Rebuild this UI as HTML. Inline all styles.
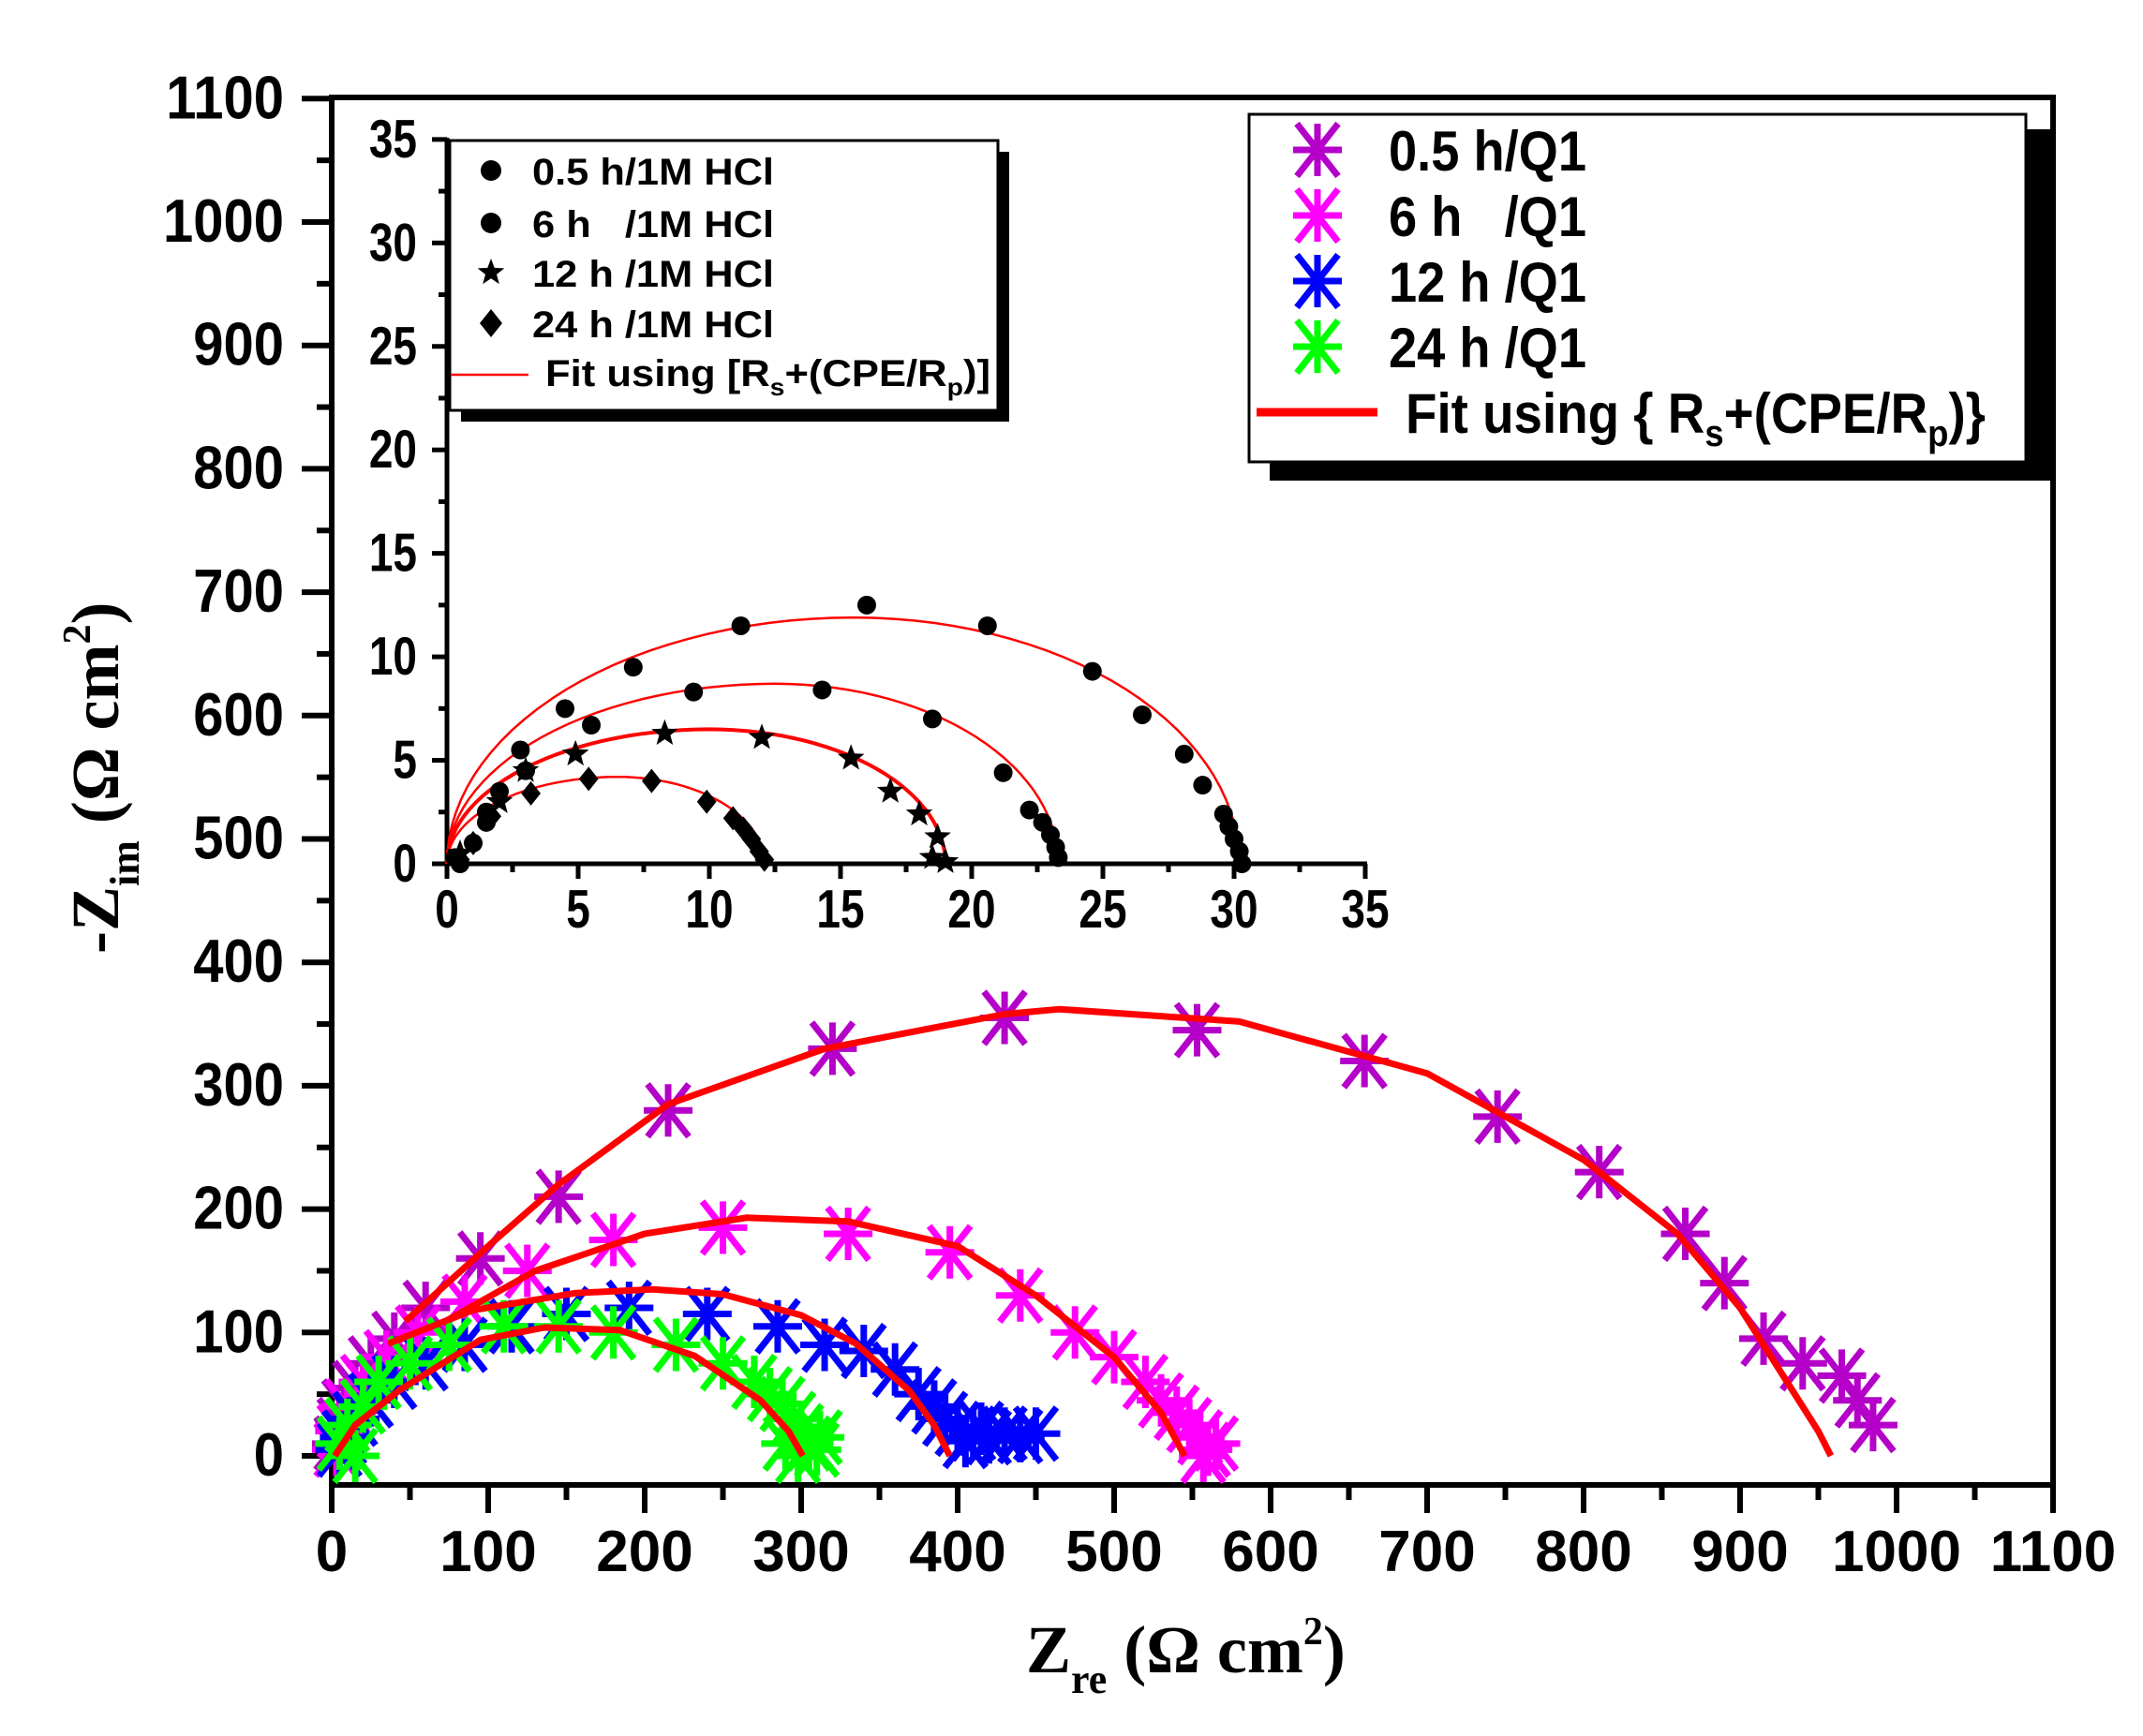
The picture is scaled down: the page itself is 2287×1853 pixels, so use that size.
<!DOCTYPE html>
<html><head><meta charset="utf-8">
<style>html,body{margin:0;padding:0;background:#fff;}svg{display:block;}text{white-space:pre;}</style>
</head><body>
<svg id="s" xmlns="http://www.w3.org/2000/svg" width="2287" height="1853" viewBox="0 0 2287 1853" font-family="Liberation Sans, Arial, sans-serif" font-weight="bold">
<rect width="2287" height="1853" fill="#fff"/>
<defs>
<g id="ast"><path d="M0,-28V28M-26,0H26M-22,-28L22,28M22,-28L-22,28" stroke-width="7" fill="none"/></g>
</defs>
<g id="g"></g>
</svg>
<script>
(function(){
var NS="http://www.w3.org/2000/svg",g=document.getElementById('g');
function el(t,a,p){var e=document.createElementNS(NS,t);for(var k in a)e.setAttribute(k,a[k]);(p||g).appendChild(e);return e;}
function tx(x,y,s,a){a=a||{};a.x=x;a.y=y;var e=el('text',a);e.textContent=s;return e;}
function X(v){return 354+1.67*v;} function Y(v){return 1554-1.317*v;}
function ix(v){return 477+28*v;} function iy(v){return 922-22.09*v;}
el('path',{d:'M354,104H2191V1585H354Z',fill:'none',stroke:'#000','stroke-width':6});
for(var v=0;v<=1100;v+=50){var maj=v%100==0;
 el('line',{x1:X(v),y1:1585,x2:X(v),y2:1585+(maj?30:16),stroke:'#000','stroke-width':6});
 el('line',{x1:354,y1:Y(v),x2:354-(maj?32:16),y2:Y(v),stroke:'#000','stroke-width':6});
 if(maj){tx(X(v),1677,String(v),{'font-size':62,'text-anchor':'middle'});
  tx(303,0,String(v),{'font-size':58,'text-anchor':'end',transform:'translate(0,'+(Y(v)+21)+') scale(1,1.12)'});}
}
var xt=tx(1095,1785,'',{'font-family':'Liberation Serif, serif','font-size':72});
xt.innerHTML='Z<tspan font-size="44" dy="22">re</tspan><tspan dy="-22"> (Ω cm</tspan><tspan font-size="42" dy="-30">2</tspan><tspan dy="30">)</tspan>';
var yt=el('text',{transform:'translate(126,1018) rotate(-90)','font-family':'Liberation Serif, serif','font-size':72,x:0,y:0});
yt.innerHTML='-Z<tspan font-size="44" dy="22">im</tspan><tspan dy="-22"> (Ω cm</tspan><tspan font-size="42" dy="-30">2</tspan><tspan dy="30">)</tspan>';
el('rect',{x:1355,y:138,width:835,height:375,fill:'#000'});
el('rect',{x:1333,y:122,width:829,height:371,fill:'#fff',stroke:'#000','stroke-width':3});
var cols=['#b400c8','#ff00ff','#0000ff','#00ff00'],labs=['0.5 h/Q1','6 h   /Q1','12 h /Q1','24 h /Q1'];
for(var i=0;i<4;i++){var yy=160+70*i;el('use',{href:'#ast',x:1406,y:yy,stroke:cols[i]});
 tx(1482,yy+22,labs[i],{'font-size':60,textLength:211,lengthAdjust:'spacingAndGlyphs'});}
el('line',{x1:1341,y1:440,x2:1470,y2:440,stroke:'#f00','stroke-width':9});
var ft=tx(1500,462,'',{'font-size':60,textLength:619,lengthAdjust:'spacingAndGlyphs'});
ft.innerHTML='Fit using { R<tspan font-size="40" dy="14">s</tspan><tspan dy="-14">+(CPE/R</tspan><tspan font-size="40" dy="14">p</tspan><tspan dy="-14">)}</tspan>';
function poly(pts,f,fy,col,w){var s=pts.map(function(p){return f(p[0]).toFixed(1)+','+fy(p[1]).toFixed(1)}).join(' ');
 el('polyline',{points:s,fill:'none',stroke:col,'stroke-width':w,'stroke-linejoin':'round'});}
var D=[
[[3,10],[5,25],[8,40],[15,55],[25,75],[40,95],[60,120],[95,160],[145,210],[215,280],[320,330],[430,355],[553,345],[660,320],[745,275],[810,230],[865,180],[890,140],[915,95],[940,75],[965,65],[975,45],[985,25]],
[[3,5],[5,20],[10,40],[20,60],[35,80],[55,100],[85,125],[125,150],[180,175],[250,185],[330,180],[395,165],[440,130],[475,100],[500,80],[520,60],[530,45],[540,35],[548,25],[555,15],[560,5],[565,10],[557,0]],
[[5,5],[8,15],[15,30],[25,45],[40,60],[60,75],[85,90],[115,105],[150,115],[190,120],[240,115],[285,105],[315,90],[340,85],[360,70],[375,50],[385,40],[392,30],[400,22],[410,18],[420,15],[430,18],[440,16],[450,18],[405,12],[415,22]],
[[15,0],[5,10],[10,25],[20,40],[30,60],[50,75],[75,90],[110,105],[145,105],[180,100],[220,90],[250,75],[270,60],[280,50],[288,42],[295,30],[300,20],[305,10],[310,5],[298,0],[312,15],[290,10]]];
for(var k=0;k<4;k++){D[k].forEach(function(p){el('use',{href:'#ast',x:X(p[0]),y:Y(p[1]),stroke:cols[k]});});}
poly([[47,109],[100,170],[145,220],[215,285],[315,330],[430,358],[465,362],[580,352],[700,310],[800,240],[860,180],[900,120],[930,60],[950,20],[958,0]],X,Y,'#f00',7);
poly([[74,110],[130,150],[200,180],[265,193],[330,190],[400,170],[450,130],[500,80],[530,35],[545,0]],X,Y,'#f00',7);
poly([[36,91],[90,118],[156,132],[205,135],[250,131],[300,114],[335,91],[369,53],[385,25],[395,0]],X,Y,'#f00',7);
poly([[2,0],[15,25],[43,53],[95,94],[136,104],[184,102],[232,81],[274,45],[292,20],[301,0]],X,Y,'#f00',7);
el('line',{x1:477,y1:147,x2:477,y2:925,stroke:'#000','stroke-width':5});
el('line',{x1:475,y1:922,x2:1459,y2:922,stroke:'#000','stroke-width':5});
for(var v=0;v<=35;v+=2.5){var maj=v%5==0;
 el('line',{x1:ix(v),y1:922,x2:ix(v),y2:922+(maj?16:9),stroke:'#000','stroke-width':5});
 el('line',{x1:477,y1:iy(v),x2:477-(maj?16:9),y2:iy(v),stroke:'#000','stroke-width':5});
 if(maj){tx(ix(v),0,String(v),{'font-size':46,'text-anchor':'middle',transform:'translate(0,990) scale(1,1.25)'});
  tx(445,0,String(v),{'font-size':46,'text-anchor':'end',transform:'translate(0,'+(iy(v)+19)+') scale(1,1.25)'});}
}
el('rect',{x:492,y:162,width:585,height:288,fill:'#000'});
el('rect',{x:480,y:150,width:585,height:288,fill:'#fff',stroke:'#000','stroke-width':3});
function circ(x,y,r){el('circle',{cx:x,cy:y,r:r,fill:'#000'});}
function star(x,y,r){var s='';for(var j=0;j<10;j++){var a=-Math.PI/2+j*Math.PI/5,rr=j%2?r*0.42:r;s+=(x+rr*Math.cos(a)).toFixed(1)+','+(y+rr*Math.sin(a)).toFixed(1)+' ';}el('polygon',{points:s,fill:'#000'});}
function dia(x,y,r){el('polygon',{points:(x)+','+(y-r)+' '+(x+r*0.8)+','+y+' '+x+','+(y+r)+' '+(x-r*0.8)+','+y,fill:'#000'});}
circ(524,182,11);circ(524,238,11);star(524,291,15);dia(524,345,15);
var il=['0.5 h/1M HCl','6 h   /1M HCl','12 h /1M HCl','24 h /1M HCl'];
for(var i=0;i<4;i++){tx(568,[182,238,291,345][i]+15,il[i],{'font-size':40,textLength:258,lengthAdjust:'spacingAndGlyphs'});}
el('line',{x1:481,y1:400,x2:564,y2:400,stroke:'#f00','stroke-width':2.5});
var it=tx(582,412,'',{'font-size':40,textLength:475,lengthAdjust:'spacingAndGlyphs'});
it.innerHTML='Fit using [R<tspan font-size="26" dy="10">s</tspan><tspan dy="-10">+(CPE/R</tspan><tspan font-size="26" dy="10">p</tspan><tspan dy="-10">)]</tspan>';
function arc(c,h,R,w){var p=[];for(var j=0;j<=60;j++){var t=Math.PI*j/60,x=t<Math.PI/2?c-c*Math.cos(t):c-(R-c)*Math.cos(t);p.push([x,h*Math.sin(t)]);}poly(p,ix,iy,'#f00',w);}
arc(15.5,11.9,30.2,2.5);arc(12.5,8.7,23.3,2.5);arc(10,6.5,19,4);arc(6.5,4.2,12.1,2.5);
[[0.5,0],[1,1],[1.5,2.5],[2,3.5],[2.8,5.5],[4.5,7.5],[7.1,9.5],[11.2,11.5],[16,12.5],[20.6,11.5],[24.6,9.3],[26.5,7.2],[28.1,5.3],[28.8,3.8],[29.6,2.4],[29.8,1.8],[30,1.2],[30.2,0.6],[30.3,0]].forEach(function(p){circ(ix(p[0]),iy(p[1]),10);});
[[0.3,0.3],[1.5,2],[3,4.5],[5.5,6.7],[9.4,8.3],[14.3,8.4],[18.5,7],[21.2,4.4],[22.2,2.6],[22.7,2],[23,1.4],[23.2,0.8],[23.3,0.3]].forEach(function(p){circ(ix(p[0]),iy(p[1]),10);});
[[0.5,0.5],[2,3],[3,4.5],[4.9,5.3],[8.3,6.3],[12,6.1],[15.4,5.1],[16.9,3.5],[18,2.4],[18.7,1.3],[18.5,0.3],[19,0.1]].forEach(function(p){star(ix(p[0]),iy(p[1]),15);});
[[0.5,0.2],[1,1],[1.7,2.3],[3.2,3.4],[5.4,4.1],[7.8,4],[9.9,3],[10.9,2.2],[11.3,1.7],[11.6,1.2],[11.9,0.6],[12.1,0.2]].forEach(function(p){dia(ix(p[0]),iy(p[1]),13);});
})();
</script>
</body></html>
